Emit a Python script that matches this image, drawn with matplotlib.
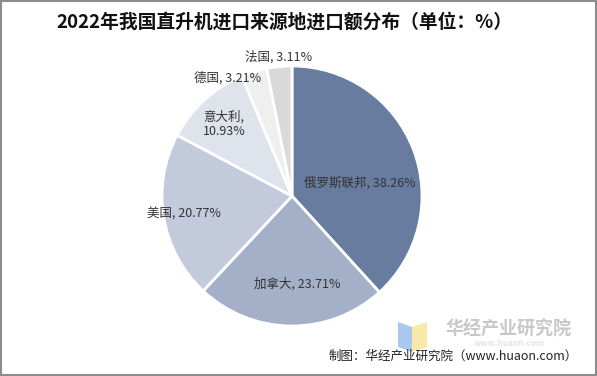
import matplotlib.pyplot as plt
from matplotlib.patches import Rectangle, Polygon

plt.rcParams['font.family'] = ['Noto Sans CJK SC', 'DejaVu Sans']

# data
countries = ['俄罗斯联邦', '加拿大', '美国', '意大利', '德国', '法国']
shares = [38.26, 23.71, 20.77, 10.93, 3.21, 3.11]
colors = ['#687ca0', '#a4b0c8', '#c3cadb', '#dfe3ec', '#efefef', '#d9d9d9']

# label centres in pixel coords (y down), set by hand to follow the picture
label_pos = [(360, 183), (297, 284), (184, 214), (203, 124), (228, 78), (279, 57)]

W, H = 597, 376
fig = plt.figure(figsize=(W / 100, H / 100), dpi=100)
ax = fig.add_axes([0, 0, 1, 1])

ax.pie(shares, colors=colors, startangle=90, counterclock=False,
       center=(292, H - 196), radius=130, frame=True,
       wedgeprops=dict(edgecolor='white', linewidth=2))
ax.set_xlim(0, W)
ax.set_ylim(0, H)
ax.set_aspect('equal')
ax.axis('off')

for i, (name, v) in enumerate(zip(countries, shares)):
    x, y = label_pos[i]
    if name == '意大利':
        ax.text(x, H - y, f'{name},\n{v:.2f}%', ha='left', va='center',
                fontsize=9, color='#333333', linespacing=1.1)
    else:
        ax.text(x, H - y, f'{name}, {v:.2f}%', ha='center', va='center',
                fontsize=9, color='#333333')

ax.text(284, H - 22, '2022年我国直升机进口来源地进口额分布（单位：%）',
        ha='center', va='center', fontsize=13.5, fontweight='bold', color='#111111')

# watermark logo
ax.add_patch(Polygon([(398, H - 322), (412, H - 327), (412, H - 352), (398, H - 347)],
                     closed=True, color='#a9c8ef', lw=0))
ax.add_patch(Polygon([(412, H - 327), (427, H - 322), (427, H - 347), (412, H - 352)],
                     closed=True, color='#f8e9a8', lw=0))
ax.text(509, H - 329, '华经产业研究院', ha='center', va='center', fontsize=13,
        fontweight='bold', color='#c8c8c8')
ax.text(509, H - 343, 'www.huaon.com', ha='center', va='center', fontsize=6,
        fontweight='bold', color='#e4e4e4')
ax.text(578, H - 356, '制图：华经产业研究院（www.huaon.com）', ha='right', va='center',
        fontsize=9, color='#222222')

ax.add_patch(Rectangle((1, 1), W - 2, H - 2, fill=False, edgecolor='#8c8c8c', lw=1.5))

fig.savefig('out.png', dpi=100)
